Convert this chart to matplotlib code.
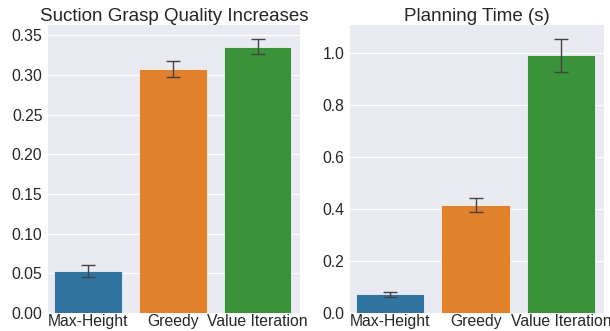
import colorsys
import numpy as np
import matplotlib
matplotlib.use("Agg")
import matplotlib.pyplot as plt
import matplotlib.colors as mcolors

# Planner comparison: grasp quality gain and planning time
METHODS = ["Max-Height", "Greedy", "Value Iteration"]

QUALITY_MEAN = [0.053, 0.308, 0.336]
QUALITY_ERR = [0.007, 0.010, 0.0098]

TIME_MEAN = [0.072, 0.415, 0.99]
TIME_ERR = [0.009, 0.027, 0.063]

BASE_COLORS = ["#1f77b4", "#ff7f0e", "#2ca02c"]


def desaturate(color, prop=0.75):
    # same idea as seaborn's barplot saturation
    r, g, b = mcolors.to_rgb(color)
    h, l, s = colorsys.rgb_to_hls(r, g, b)
    return colorsys.hls_to_rgb(h, l, s * prop)


COLORS = [desaturate(c) for c in BASE_COLORS]

plt.rcParams.update({
    "font.family": ["Liberation Sans", "DejaVu Sans"],
    "axes.facecolor": "#EAEAF2",
    "axes.edgecolor": "white",
    "grid.color": "white",
    "axes.grid": True,
    "axes.axisbelow": True,
    "xtick.major.size": 0,
    "ytick.major.size": 0,
    "xtick.color": "#262626",
    "ytick.color": "#262626",
    "text.color": "#262626",
})

fig = plt.figure(figsize=(6.1, 3.31), dpi=100)
ax1 = fig.add_axes([0.0787, 0.0544, 0.413, 0.870])
ax2 = fig.add_axes([0.5738, 0.0544, 0.416, 0.870])

x = np.arange(len(METHODS))


def draw_panel(ax, means, errs, title):
    ax.bar(x, means, width=0.8, color=COLORS, edgecolor="white", linewidth=0.5)
    ax.errorbar(x, means, yerr=errs, fmt="none", ecolor="#424242",
                elinewidth=1.0, capsize=4.7, capthick=1.0)
    ax.set_xticks(x)
    ax.set_xticklabels(METHODS)
    ax.set_xlim(-0.47, 2.5)
    ax.grid(axis="x", visible=False)
    ax.tick_params(axis="x", labelsize=11.3, pad=1)
    ax.tick_params(axis="y", labelsize=11.3, pad=4)
    ax.set_title(title, fontsize=13.5, pad=3)
    for spine in ax.spines.values():
        spine.set_visible(False)


draw_panel(ax1, QUALITY_MEAN, QUALITY_ERR, "Suction Grasp Quality Increases")
draw_panel(ax2, TIME_MEAN, TIME_ERR, "Planning Time (s)")

ax1.set_yticks(np.arange(0, 0.351, 0.05))
ax1.set_yticklabels([f"{v:.2f}" for v in np.arange(0, 0.351, 0.05)])
ax2.set_yticks(np.arange(0, 1.01, 0.2))
ax2.set_yticklabels([f"{v:.1f}" for v in np.arange(0, 1.01, 0.2)])

fig.savefig("out.png", dpi=100)
